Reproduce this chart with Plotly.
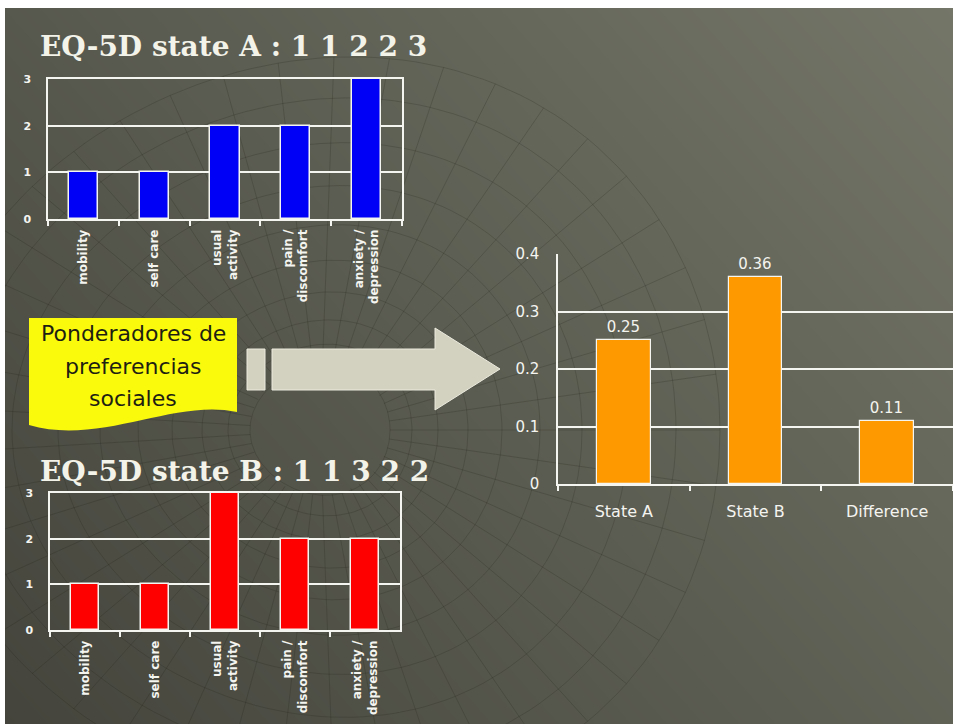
import numpy as np
import plotly.graph_objects as go

# ---- data -------------------------------------------------------------
dimensions = ["mobility", "self care", "usual<br>activity",
              "pain /<br>discomfort", "anxiety /<br>depression"]
state_a = [1, 1, 2, 2, 3]
state_b = [1, 1, 3, 2, 2]

summary_labels = ["State A", "State B", "Difference"]
summary_values = [0.25, 0.36, 0.11]

title_a = "EQ-5D state A : 1 1 2 2 3"
title_b = "EQ-5D state B : 1 1 3 2 2"
callout_lines = ["Ponderadores de", "preferencias", "sociales"]

# ---- page geometry (pixels) --------------------------------------------
W, H = 953, 724
LEFT_PAD, TOP_PAD = 5, 8


def xd(px):
    return px / W


def yd(py):
    return 1 - py / H


fig = go.Figure()

# ---- slide background: smooth olive gradient ----------------------------
gx = np.linspace(-40, W + 40, 26)
gy = np.linspace(-40, H + 40, 26)
GX, GY = np.meshgrid(gx, gy)
shade = 0.6 * GX / W + 0.4 * (1 - GY / H)
fig.add_trace(go.Heatmap(
    x=gx, y=gy, z=shade, zsmooth="best", showscale=False, zmin=0, zmax=1,
    colorscale=[[0, "#44443c"], [1, "#747668"]], hoverinfo="skip",
    xaxis="x", yaxis="y"))

# faint wire-mesh decoration (funnel of rings and spokes)
cx, cy = 320, 430
ring_rx = [70, 92, 118, 148, 182, 220, 262, 308, 356, 400]
mx, my = [], []
t = np.linspace(0, 2 * np.pi, 181)
for rx in ring_rx:
    ry = rx * 0.93
    mx += list(cx + rx * np.cos(t)) + [None]
    my += list(cy + ry * np.sin(t) * (1 + 0.08 * np.cos(t))) + [None]
for ang in np.arange(0, 360, 8):
    a = np.deg2rad(ang)
    mx += [cx + 70 * np.cos(a), cx + 400 * np.cos(a), None]
    my += [cy + 65 * np.sin(a), cy + 372 * np.sin(a) * (1 + 0.08 * np.cos(a)), None]
fig.add_trace(go.Scatter(
    x=mx, y=my, mode="lines", hoverinfo="skip", showlegend=False,
    line=dict(color="rgba(28,28,22,0.2)", width=1),
    xaxis="x", yaxis="y"))

# ---- bar charts -----------------------------------------------------------
bar_line = dict(color="#f4f4f0", width=1.5)
fig.add_trace(go.Bar(
    x=dimensions, y=state_a, width=0.41, xaxis="x2", yaxis="y2",
    marker=dict(color="#0000f6", line=bar_line), showlegend=False))
fig.add_trace(go.Bar(
    x=dimensions, y=state_b, width=0.41, xaxis="x3", yaxis="y3",
    marker=dict(color="#ff0000", line=bar_line), showlegend=False))
fig.add_trace(go.Bar(
    x=summary_labels, y=summary_values, width=0.41, xaxis="x4", yaxis="y4",
    marker=dict(color="#ff9900", line=dict(color="#f4f4f0", width=1.2)),
    text=[f"{v:.2f}" for v in summary_values], textposition="outside",
    textfont=dict(family="DejaVu Sans", size=15, color="#f4f4ee"),
    cliponaxis=False, showlegend=False))

WHITE = "#f4f4f0"
ytick_small = dict(family="DejaVu Sans", size=11, color=WHITE, weight="bold")
xtick_small = dict(family="DejaVu Sans", size=12, color=WHITE, weight="bold")


def small_axes(x0, x1, ytop, ybot, n):
    xa = dict(domain=[xd(x0), xd(x1)], anchor=f"y{n}", type="category",
              range=[-0.5, 4.5],
              showline=True, linecolor=WHITE, linewidth=1.5, mirror=True,
              showgrid=False, ticks="outside", tickson="boundaries",
              ticklen=5, tickwidth=1.5, tickcolor=WHITE, tickangle=-90,
              tickfont=xtick_small, ticklabelstandoff=4, fixedrange=True,
              automargin=False)
    ya = dict(domain=[yd(ybot), yd(ytop)], anchor=f"x{n}", range=[0, 3],
              dtick=1, showgrid=True, gridcolor=WHITE, gridwidth=1.5,
              showline=True, linecolor=WHITE, linewidth=1.5, mirror=True,
              zeroline=False, ticks="", tickfont=ytick_small,
              ticklabelstandoff=13, fixedrange=True, automargin=False)
    return xa, ya


xa2, ya2 = small_axes(48, 402, 79, 219, 2)
xa3, ya3 = small_axes(50, 400, 493, 630, 3)

big_tick = dict(family="DejaVu Sans", size=15, color=WHITE)

fig.update_layout(
    width=W, height=H,
    margin=dict(l=0, r=0, t=0, b=0, pad=0, autoexpand=False),
    paper_bgcolor="white", plot_bgcolor="rgba(0,0,0,0)",
    showlegend=False, bargap=0,
    xaxis=dict(domain=[xd(LEFT_PAD), 1], range=[LEFT_PAD, W], visible=False,
               fixedrange=True, automargin=False),
    yaxis=dict(domain=[0, yd(TOP_PAD)], range=[H, TOP_PAD], visible=False,
               fixedrange=True, automargin=False),
    xaxis2=xa2, yaxis2=ya2, xaxis3=xa3, yaxis3=ya3,
    xaxis4=dict(domain=[xd(558), 1], anchor="y4", type="category",
                range=[-0.5, 2.5], showline=True, linecolor=WHITE,
                linewidth=1.5, showgrid=False, ticks="outside",
                tickson="boundaries", ticklen=5, tickwidth=1.5,
                tickcolor=WHITE, tickfont=dict(family="DejaVu Sans", size=16,
                                               color=WHITE),
                ticklabelstandoff=12, fixedrange=True, automargin=False),
    yaxis4=dict(domain=[yd(484), yd(254)], anchor="x4", range=[0, 0.4],
                dtick=0.1, showgrid=True, gridcolor=WHITE, gridwidth=1.5,
                showline=True, linecolor=WHITE, linewidth=1.5, zeroline=False,
                ticks="", tickfont=big_tick, ticklabelstandoff=14,
                fixedrange=True, automargin=False),
)

# ---- titles ---------------------------------------------------------------
title_font = dict(family="DejaVu Serif", size=28, color="#f3f3ea",
                  weight="bold")
for txt, py in [(title_a, 46), (title_b, 471)]:
    fig.add_annotation(text=txt, xref="paper", yref="paper",
                       x=xd(38), y=yd(py), xanchor="left", yanchor="middle",
                       showarrow=False, font=title_font)

# ---- yellow callout and arrow ---------------------------------------------
fig.add_shape(type="path", xref="x", yref="y", layer="above",
              path="M 29,318 L 237,318 L 237,412 "
                   "C 175,398 100,446 29,425 Z",
              fillcolor="#fafa0c", line=dict(color="#fafa0c", width=0))
for line_txt, py in zip(callout_lines, [333, 366, 398]):
    fig.add_annotation(text=line_txt, xref="paper", yref="paper",
                       x=xd(133), y=yd(py), xanchor="center",
                       yanchor="middle", showarrow=False,
                       font=dict(family="DejaVu Sans", size=22,
                                 color="#1e1e12"))

arrow_fill = "#d3d1bf"
arrow_edge = "#ecebdf"
fig.add_shape(type="rect", xref="x", yref="y", layer="above",
              x0=247, x1=265, y0=349, y1=390,
              fillcolor=arrow_fill, line=dict(color=arrow_edge, width=1))
fig.add_shape(type="path", xref="x", yref="y", layer="above",
              path="M 272,349 L 435,349 L 435,328 L 500,369 "
                   "L 435,410 L 435,390 L 272,390 Z",
              fillcolor=arrow_fill, line=dict(color=arrow_edge, width=1))

fig.write_html("out.html")
